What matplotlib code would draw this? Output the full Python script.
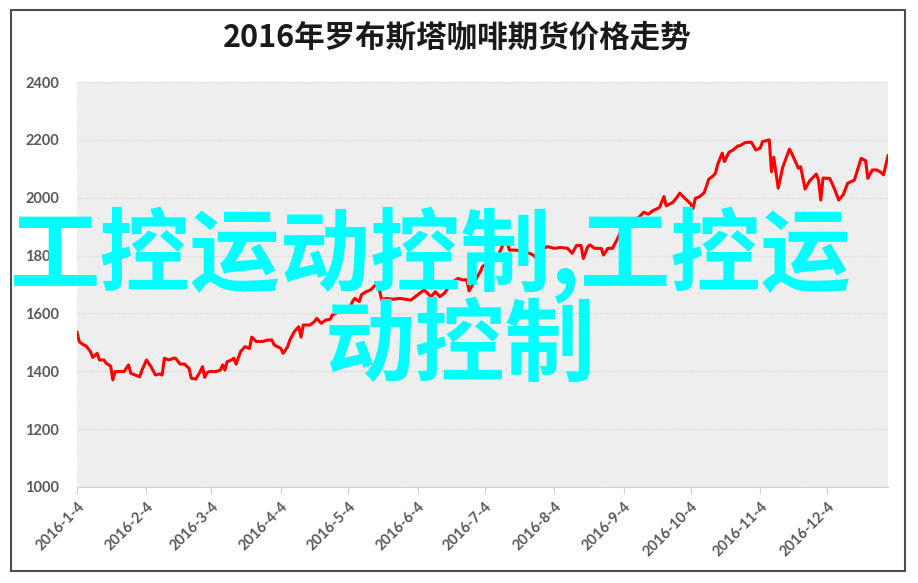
import pandas as pd
import matplotlib
matplotlib.use('Agg')
import matplotlib.pyplot as plt
from matplotlib.patches import Rectangle

# ---- data ----
title = '2016年罗布斯塔咖啡期货价格走势'
overlay_line1 = '工控运动控制,工控运'
overlay_line2 = '动控制'

year = 2016
days = ['01-04', '01-05', '01-07', '01-08', '01-10', '01-11', '01-13', '01-14', '01-16', '01-17',
        '01-19', '01-20', '01-21', '01-24', '01-25', '01-27', '01-28', '01-31', '02-01', '02-02',
        '02-04', '02-06', '02-08', '02-10', '02-11', '02-12', '02-14', '02-16', '02-17', '02-19',
        '02-21', '02-23', '02-24', '02-26', '02-28', '02-29', '03-01', '03-02', '03-03', '03-06',
        '03-08', '03-09', '03-10', '03-11', '03-13', '03-14', '03-15', '03-17', '03-19', '03-21',
        '03-22', '03-24', '03-27', '03-29', '03-31', '04-01', '04-04', '04-05', '04-07', '04-08',
        '04-10', '04-12', '04-13', '04-14', '04-17', '04-19', '04-20', '04-22', '04-24', '04-26',
        '04-27', '04-30', '05-04', '05-06', '05-07', '05-09', '05-10', '05-12', '05-14', '05-17',
        '05-18', '05-19', '05-21', '05-24', '05-27', '06-01', '06-03', '06-05', '06-07', '06-10',
        '06-12', '06-14', '06-16', '06-19', '06-22', '06-24', '06-26', '06-27', '07-02', '07-03',
        '07-06', '07-10', '07-12', '07-14', '07-15', '07-18', '07-21', '07-24', '07-26', '07-27',
        '07-29', '08-01', '08-04', '08-07', '08-10', '08-12', '08-14', '08-16', '08-17', '08-19',
        '08-20', '08-22', '08-25', '08-26', '08-28', '08-30', '09-01', '09-03', '09-05', '09-08',
        '09-09', '09-11', '09-13', '09-15', '09-17', '09-20', '09-22', '09-23', '09-26', '09-28',
        '09-29', '10-01', '10-04', '10-05', '10-06', '10-08', '10-10', '10-12', '10-14', '10-15',
        '10-16', '10-18', '10-19', '10-21', '10-23', '10-25', '10-26', '10-28', '10-30', '10-31',
        '11-02', '11-04', '11-05', '11-08', '11-09', '11-10', '11-12', '11-14', '11-17', '11-18',
        '11-21', '11-22', '11-24', '11-26', '11-29', '11-30', '12-01', '12-02', '12-05', '12-07',
        '12-09', '12-11', '12-13', '12-16', '12-19', '12-21', '12-22', '12-24', '12-26', '12-28',
        '12-29', '12-31']
prices = [1535, 1502, 1491, 1488, 1468, 1448, 1462, 1439, 1439, 1428,
          1418, 1370, 1399, 1399, 1399, 1422, 1393, 1384, 1381, 1404,
          1439, 1416, 1387, 1391, 1387, 1445, 1439, 1445, 1445, 1425,
          1425, 1410, 1376, 1373, 1399, 1416, 1379, 1395, 1399, 1399,
          1404, 1422, 1404, 1433, 1439, 1445, 1425, 1468, 1485, 1479,
          1518, 1503, 1503, 1508, 1508, 1491, 1479, 1462, 1485, 1508,
          1537, 1554, 1518, 1560, 1560, 1572, 1583, 1566, 1577, 1580,
          1595, 1606, 1606, 1641, 1652, 1641, 1665, 1675, 1681, 1704,
          1681, 1646, 1652, 1649, 1652, 1646, 1658, 1670, 1681, 1658,
          1675, 1658, 1670, 1704, 1721, 1716, 1716, 1678, 1744, 1762,
          1780, 1800, 1835, 1848, 1819, 1819, 1813, 1808, 1800, 1790,
          1819, 1831, 1825, 1828, 1825, 1808, 1835, 1835, 1790, 1831,
          1837, 1825, 1825, 1802, 1825, 1825, 1854, 1888, 1911, 1928,
          1922, 1934, 1950, 1943, 1955, 1966, 2004, 1972, 1984, 2004,
          2016, 2001, 1978, 1963, 1998, 2004, 2018, 2064, 2076, 2085,
          2116, 2154, 2125, 2157, 2166, 2179, 2180, 2190, 2192, 2192,
          2165, 2172, 2194, 2200, 2090, 2140, 2033, 2105, 2168, 2154,
          2102, 2107, 2030, 2058, 2082, 2061, 1992, 2068, 2067, 2033,
          1992, 2010, 2050, 2061, 2136, 2128, 2067, 2096, 2096, 2087,
          2079, 2145]

tick_labels = ['2016-1-4', '2016-2-4', '2016-3-4', '2016-4-4', '2016-5-4', '2016-6-4',
               '2016-7-4', '2016-8-4', '2016-9-4', '2016-10-4', '2016-11-4', '2016-12-4']
y_ticks = [1000, 1200, 1400, 1600, 1800, 2000, 2200, 2400]

dates = pd.to_datetime(['%d-%s' % (year, d) for d in days])
tick_dates = pd.to_datetime(tick_labels, format='%Y-%m-%d')

plt.rcParams['font.family'] = ['Lato', 'Noto Sans CJK SC', 'DejaVu Sans']
plt.rcParams['hatch.linewidth'] = 0.6

fig = plt.figure(figsize=(9.18, 5.83), dpi=100)

# outer frame
fig.patches.append(Rectangle((0.012, 0.0206), 0.974, 0.962, transform=fig.transFigure,
                             fill=False, edgecolor='#4d4d4d', linewidth=1.5))

ax = fig.add_axes([0.0839, 0.1647, 0.8834, 0.6946])

# striped plot background
ax.add_patch(Rectangle((0, 0), 1, 1, transform=ax.transAxes, facecolor='white',
                       edgecolor='#e0e0e0', hatch='\\' * 14, linewidth=0, zorder=0))

ax.plot(dates, prices, color='#ff0000', linewidth=2.2, zorder=3)

ax.set_xlim(pd.Timestamp('2016-01-04'), pd.Timestamp('2016-12-31'))
ax.set_ylim(1000, 2400)
ax.set_yticks(y_ticks)
ax.set_xticks(tick_dates)
ax.set_xticklabels(tick_labels, rotation=45, ha='right', rotation_mode='anchor')

ax.set_axisbelow(True)
ax.grid(axis='y', color='#e3e3e3', linewidth=1.0)
for side in ['top', 'right', 'left']:
    ax.spines[side].set_visible(False)
ax.spines['bottom'].set_color('#d0d0d0')
ax.tick_params(axis='y', length=0, pad=13, labelsize=10.5, labelcolor='#595959')
ax.tick_params(axis='x', length=5, color='#d0d0d0', pad=4, labelsize=10.5, labelcolor='#595959')
for lab in ax.get_yticklabels() + ax.get_xticklabels():
    lab.set_fontweight('bold')

fig.text(0.498, 0.9365, title, ha='center', va='center', fontsize=22, fontweight='bold',
         family=['Noto Sans CJK SC', 'DejaVu Sans'], color='#1a1a1a')

# cyan watermark text over the chart
fig.text(0.011, 0.561, overlay_line1, ha='left', va='center', fontsize=65, fontweight='heavy',
         family=['Noto Sans CJK SC', 'DejaVu Sans'], color='#00ffff', zorder=10)
fig.text(0.354, 0.404, overlay_line2, ha='left', va='center', fontsize=65, fontweight='heavy',
         family=['Noto Sans CJK SC', 'DejaVu Sans'], color='#00ffff', zorder=10)

fig.savefig('out.png', dpi=100)
